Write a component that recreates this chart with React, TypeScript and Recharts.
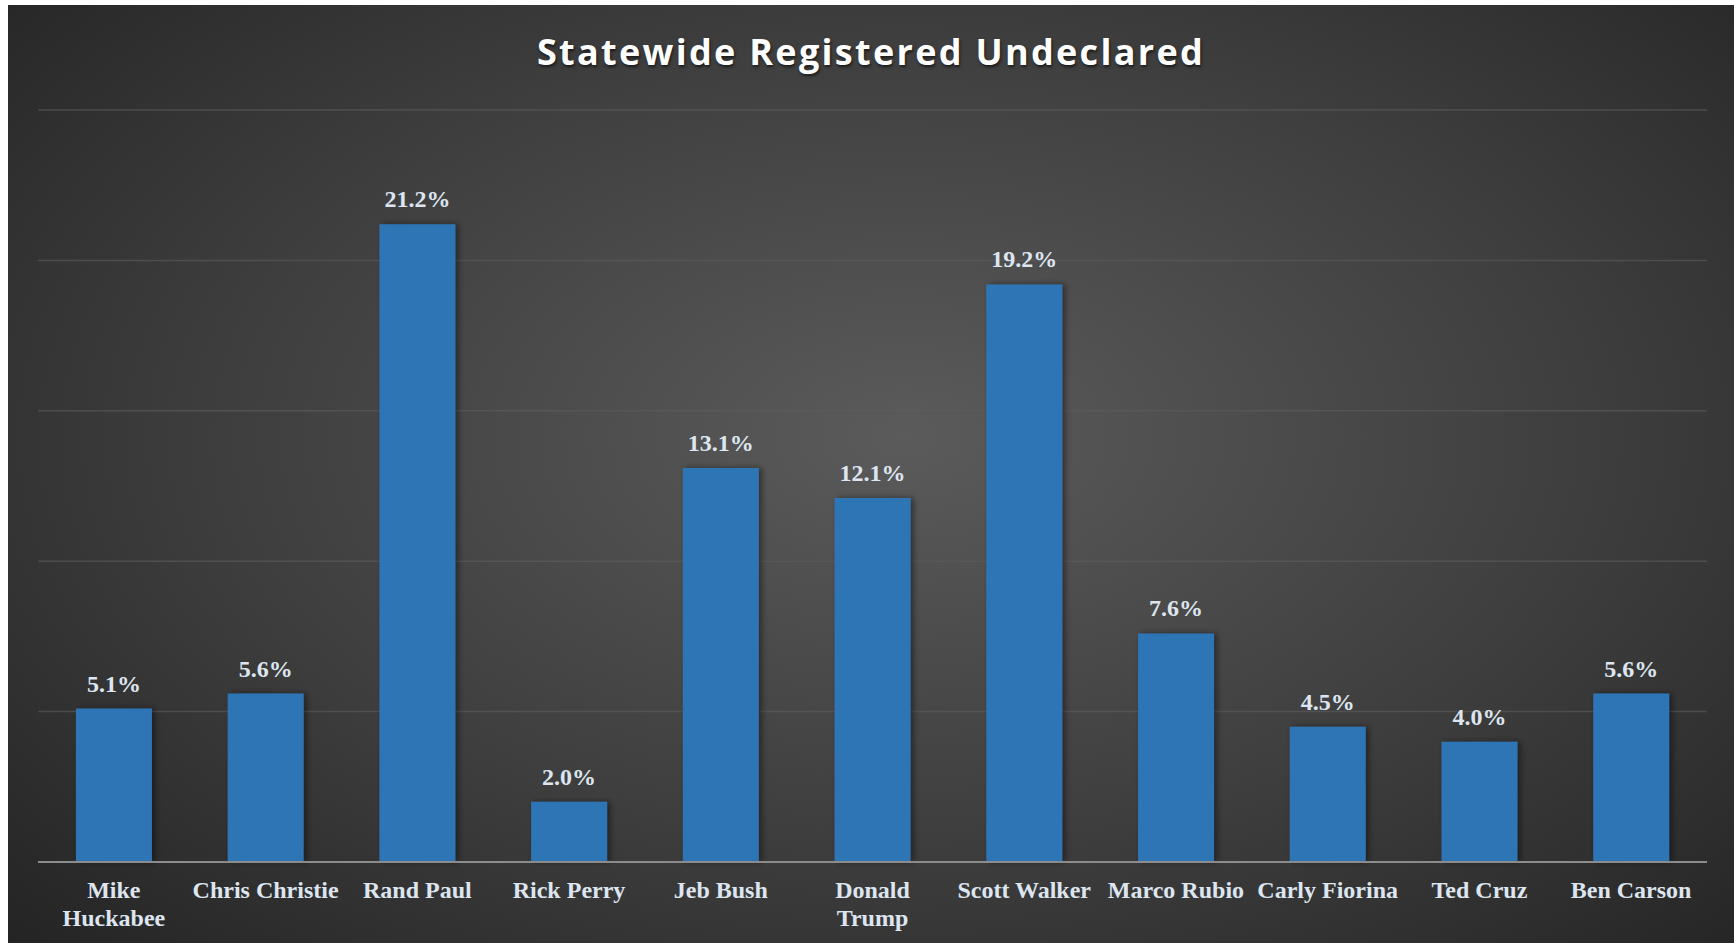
import React from 'react';
import { BarChart, Bar, XAxis, YAxis, CartesianGrid, LabelList } from 'recharts';

const candidates = [
  'Mike\nHuckabee',
  'Chris Christie',
  'Rand Paul',
  'Rick Perry',
  'Jeb Bush',
  'Donald\nTrump',
  'Scott Walker',
  'Marco Rubio',
  'Carly Fiorina',
  'Ted Cruz',
  'Ben Carson',
];
const shares = [5.1, 5.6, 21.2, 2.0, 13.1, 12.1, 19.2, 7.6, 4.5, 4.0, 5.6];
const yTicks = [0, 5, 10, 15, 20, 25];

const data = candidates.map((name, i) => ({ name, value: shares[i] }));

const LABEL_FILL = '#dde6f0';
const SERIF = '"Liberation Serif", "Times New Roman", serif';

function NameTick(props: any) {
  const { x, y, payload } = props;
  const lines = String(payload.value).split('\n');
  return (
    <text x={x} y={y} textAnchor="middle" fill={LABEL_FILL} fontFamily={SERIF} fontWeight="bold" fontSize={24}>
      {lines.map((line, i) => (
        <tspan key={i} x={x} dy={i === 0 ? 28 : 28}>
          {line}
        </tspan>
      ))}
    </text>
  );
}

function ValueLabel(props: any) {
  const { x, y, width, value } = props;
  return (
    <text
      x={x + width / 2}
      y={y - 17}
      textAnchor="middle"
      fill={LABEL_FILL}
      fontFamily={SERIF}
      fontWeight="bold"
      fontSize={24}
    >
      {`${Number(value).toFixed(1)}%`}
    </text>
  );
}

export default function App() {
  return (
    <div
      style={{
        position: 'absolute',
        top: 5,
        left: 8,
        width: 1726,
        height: 938,
        background: 'radial-gradient(ellipse 72% 78% at 52% 46%, #5b5b5b 0%, #3e3e3e 55%, #242424 100%)',
        overflow: 'hidden',
      }}
    >
      <div
        style={{
          position: 'absolute',
          top: 22,
          left: 0,
          width: 1726,
          textAlign: 'center',
          color: '#ffffff',
          fontFamily: '"Open Sans", sans-serif',
          fontWeight: 700,
          fontSize: 36,
          letterSpacing: 2.3,
          textShadow: '1px 2px 3px rgba(0,0,0,0.6)',
        }}
      >
        Statewide Registered Undeclared
      </div>
      <BarChart
        width={1726}
        height={938}
        data={data}
        margin={{ top: 105, right: 27, bottom: 0, left: 30 }}
        barCategoryGap="25%"
      >
        <defs>
          <filter id="barShadow" x="-20%" y="-5%" width="150%" height="110%">
            <feDropShadow dx="3" dy="0" stdDeviation="3" floodColor="#000" floodOpacity="0.45" />
          </filter>
        </defs>
        <CartesianGrid vertical={false} stroke="#5e5e5e" strokeOpacity={0.6} strokeWidth={1.5} />
        <YAxis hide domain={[0, 25]} ticks={yTicks} />
        <XAxis
          dataKey="name"
          height={81}
          interval={0}
          axisLine={{ stroke: '#8c8c8c', strokeWidth: 2 }}
          tickLine={false}
          tick={<NameTick />}
        />
        <Bar dataKey="value" fill="#2e74b5" isAnimationActive={false} filter="url(#barShadow)">
          <LabelList dataKey="value" content={<ValueLabel />} />
        </Bar>
      </BarChart>
    </div>
  );
}
